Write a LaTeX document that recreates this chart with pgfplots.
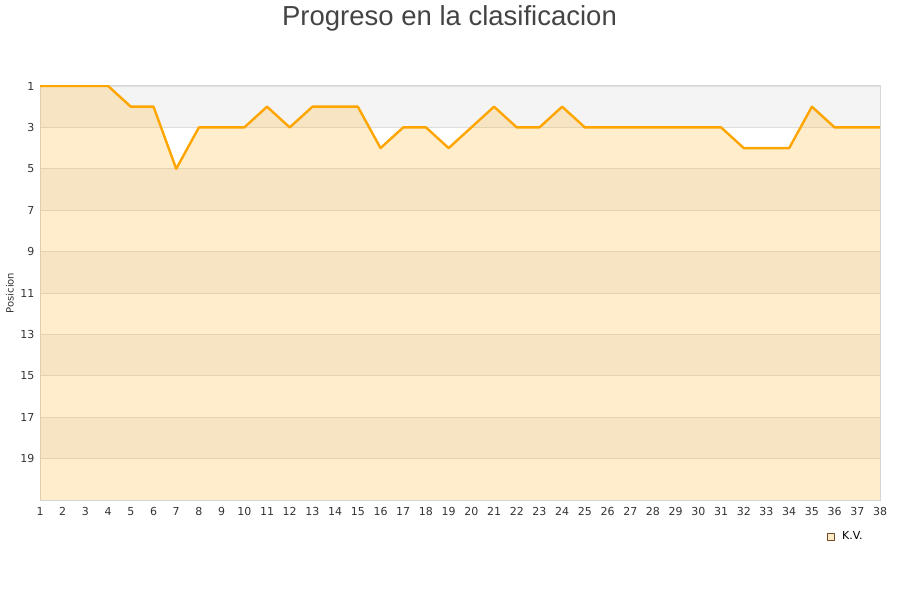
\documentclass[border=0pt]{standalone}
\usepackage{pgfplots}
\pgfplotsset{compat=1.18}
\usepackage{fontspec}
\setmainfont{DejaVu Sans}
\newfontfamily\titlefont{Liberation Sans}

\definecolor{lineorange}{RGB}{255,165,0}
\definecolor{bandgray}{RGB}{244,244,244}
\definecolor{gridgray}{RGB}{222,222,222}
\definecolor{framegray}{RGB}{215,215,215}
\definecolor{labelgray}{RGB}{51,51,51}
\definecolor{titlegray}{RGB}{68,68,68}

\pgfplotstableread{
x pos
1 1
2 1
3 1
4 1
5 2
6 2
7 5
8 3
9 3
10 3
11 2
12 3
13 2
14 2
15 2
16 4
17 3
18 3
19 4
20 3
21 2
22 3
23 3
24 2
25 3
26 3
27 3
28 3
29 3
30 3
31 3
32 4
33 4
34 4
35 2
36 3
37 3
38 3
}\posdata

\begin{document}
\begin{tikzpicture}
\begin{axis}[
  set layers,
  at={(0,0)}, anchor=south west,
  width=840pt, height=414pt, scale only axis,
  xmin=1, xmax=38, ymin=1, ymax=21,
  y dir=reverse,
  xtick={1,...,38},
  ytick={1,3,...,19},
  major tick length=0pt,
  ymajorgrids,
  grid style={gridgray, line width=0.8pt},
  axis line style={framegray, line width=1pt},
  tick label style={font=\fontsize{11}{13}\selectfont, text=labelgray},
  /pgf/number format/assume math mode=true,
  xticklabel style={yshift=-4pt},
  yticklabel style={xshift=-2pt},
  ylabel={Posicion},
  ylabel style={font=\fontsize{10}{12}\selectfont, text=labelgray, inner sep=0pt, at={(-30pt,0.5)}, anchor=center},
  legend style={at={(0.933,-0.088)}, anchor=west, draw=none, fill=none,
    font=\fontsize{11}{13}\selectfont, text=black,
    legend cell align=left},
  legend image code/.code={\draw[fill=lineorange!22, draw=brown!60!black, line width=0.5pt] (0pt,-3.5pt) rectangle (7pt,3.5pt);
    \path[draw=none] (7pt,0pt) -- (13pt,0pt);},
]
% background bands
\addplot[on layer=axis background, fill=bandgray, draw=none, forget plot] coordinates {(1,1) (38,1) (38,3) (1,3)} -- cycle;
\addplot[on layer=axis background, fill=bandgray, draw=none, forget plot] coordinates {(1,5) (38,5) (38,7) (1,7)} -- cycle;
\addplot[on layer=axis background, fill=bandgray, draw=none, forget plot] coordinates {(1,9) (38,9) (38,11) (1,11)} -- cycle;
\addplot[on layer=axis background, fill=bandgray, draw=none, forget plot] coordinates {(1,13) (38,13) (38,15) (1,15)} -- cycle;
\addplot[on layer=axis background, fill=bandgray, draw=none, forget plot] coordinates {(1,17) (38,17) (38,19) (1,19)} -- cycle;
% area under the line
\addplot[fill=lineorange, fill opacity=0.2, draw=none, forget plot]
  table[x=x, y=pos] {\posdata} -- (axis cs:38,21) -- (axis cs:1,21) -- cycle;
\addplot[lineorange, line width=2.4pt, line join=round]
  table[x=x, y=pos] {\posdata};
\addlegendentry{K.V.}
\end{axis}
\node[font=\titlefont\fontsize{27.5}{32}\selectfont, text=titlegray] at (409.5pt,482pt) {Progreso en la clasificacion};
\pgfresetboundingbox
\path[use as bounding box] (-40pt,-100pt) rectangle (860pt,500pt);
\end{tikzpicture}
\end{document}
